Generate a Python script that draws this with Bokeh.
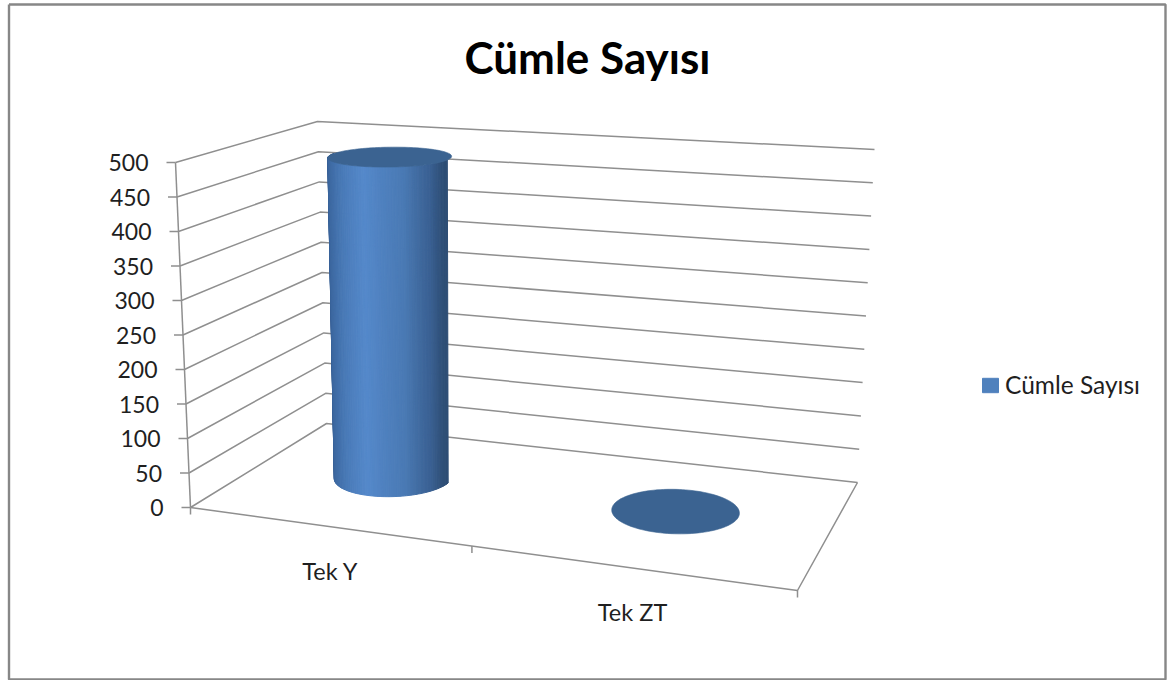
import numpy as np
from bokeh.plotting import figure
from bokeh.models import Range1d, Legend, LegendItem
from bokeh.core.properties import value
from bokeh.embed import file_html
from bokeh.resources import INLINE

TITLE = "Cümle Sayısı"
categories = ["Tek Y", "Tek ZT"]
series_values = [485, 0]
tick_values = [0, 50, 100, 150, 200, 250, 300, 350, 400, 450, 500]
VMAX = 500
FONT = value("Lato")
GRID = "#8f8f8f"

# 3-D box of the chart as it lands on the page
FLOOR = [(190, 507), (797, 590), (857, 482), (326, 423)]   # front-left, front-right, back-right, back-left
CEIL = [(175, 162), (842, 205), (874, 149), (317, 121)]


def homography(q):
    src = [(0, 0), (1, 0), (1, 1), (0, 1)]
    A, b = [], []
    for (u, d), (x, y) in zip(src, q):
        A.append([u, d, 1, 0, 0, 0, -u * x, -d * x]); b.append(x)
        A.append([0, 0, 0, u, d, 1, -u * y, -d * y]); b.append(y)
    return np.append(np.linalg.solve(np.array(A, float), np.array(b, float)), 1).reshape(3, 3)


HF, HC = homography(FLOOR), homography(CEIL)


def apply(H, u, d):
    w = H @ np.array([u, d, 1.0])
    return w[0] / w[2], w[1] / w[2]


def project(u, d, v):
    """Position in the 3-D box -> page position."""
    xf, yf = apply(HF, u, d)
    xc, yc = apply(HC, u, d)
    t = v / VMAX
    return xf + (xc - xf) * t, yf + (yc - yf) * t


p = figure(width=1171, height=680, output_backend="svg", toolbar_location=None,
           x_range=Range1d(0, 1171), y_range=Range1d(680, 0), min_border=0,
           background_fill_color="white", border_fill_color="white")
p.axis.visible = False
p.grid.visible = False
p.outline_line_color = None

# chart border
p.line([8.5, 1165, 1165, 8.5, 8.5], [4, 4, 679, 679, 4], line_color="#878787", line_width=2.4)

# walls and gridlines
seg = dict(line_color=GRID, line_width=1.5)
for v in tick_values:
    a = project(0, 0, v); b = project(0, 1, v); c = project(1, 1, v)
    p.line([a[0], b[0], c[0]], [a[1], b[1], c[1]], **seg)
    p.line([a[0] - 9, a[0]], [a[1], a[1]], **seg)
    p.text([a[0] - 27], [a[1]], text=[str(v)], text_font=FONT, text_font_size="23px",
           text_color="#1f1f1f", text_align="right", text_baseline="middle")
a0, a1 = project(0, 0, 0), project(0, 0, VMAX)
p.line([a0[0], a1[0]], [a0[1], a1[1]], **seg)

# floor front and right edges, category ticks
fr, br = project(1, 0, 0), project(1, 1, 0)
p.line([a0[0], fr[0], br[0]], [a0[1], fr[1], br[1]], **seg)
for u in [0, 0.5, 1]:
    t = project(u, 0, 0)
    p.line([t[0], t[0]], [t[1], t[1] + 7], **seg)

# cylinders
RU, RD = 0.102, 0.21
STOPS_T = [0, 0.1, 0.3, 0.5, 0.8, 0.95, 1]
STOPS_R = [0x30, 0x3c, 0x4a, 0x55, 0x4a, 0x3a, 0x2e]
STOPS_G = [0x55, 0x67, 0x7b, 0x89, 0x7a, 0x60, 0x4e]
STOPS_B = [0x88, 0x9f, 0xb8, 0xcb, 0xb4, 0x92, 0x75]
for i, val in enumerate(series_values):
    uc = (i + 0.5) / len(categories)
    dc = 0.52
    if val > 0:
        N = 70
        ts = np.linspace(np.pi, 2 * np.pi, N + 1)   # front half of the circle
        xs, ys, cols = [], [], []
        for k in range(N):
            q = []
            for th, vv in [(ts[k], 0), (ts[k + 1], 0), (ts[k + 1], val), (ts[k], val)]:
                q.append(project(uc + RU * np.cos(th), dc + RD * np.sin(th), vv))
            xs.append([o[0] for o in q]); ys.append([o[1] for o in q])
            f = (np.cos((ts[k] + ts[k + 1]) / 2) + 1) / 2
            cols.append("#%02x%02x%02x" % tuple(int(np.interp(f, STOPS_T, s)) for s in (STOPS_R, STOPS_G, STOPS_B)))
        p.patches(xs, ys, fill_color=cols, line_color=cols, line_width=1)
    th = np.linspace(0, 2 * np.pi, 121)
    pts = [project(uc + RU * np.cos(t), dc + RD * np.sin(t), val) for t in th]
    p.patch([o[0] for o in pts], [o[1] for o in pts], fill_color="#3b6391", line_color="#3b6391", line_width=0.6)

    lab = project(uc, 0, 0)
    p.text([lab[0] + 4], [lab[1] + 45], text=[categories[i]], text_font=FONT, text_font_size="23.5px",
           text_color="#1f1f1f", text_align="center", text_baseline="middle")

# title
p.text([587], [56], text=[TITLE], text_font=FONT, text_font_size="44px", text_font_style="bold",
       text_color="black", text_align="center", text_baseline="middle")

# legend (its sample sits off the frame, only the swatch is seen)
swatch = p.quad(left=[-50], right=[-40], top=[-50], bottom=[-40], fill_color="#4f81bd", line_color="#4f81bd")
legend = Legend(items=[LegendItem(label=TITLE, renderers=[swatch])], location=(980, 281),
                border_line_color=None, background_fill_alpha=0, padding=0, margin=0,
                glyph_width=20, glyph_height=18, label_standoff=5,
                label_text_font="Lato", label_text_font_size="24.5px", label_text_color="#1f1f1f")
p.add_layout(legend, "center")

open("out.html", "w").write(file_html(p, INLINE))
